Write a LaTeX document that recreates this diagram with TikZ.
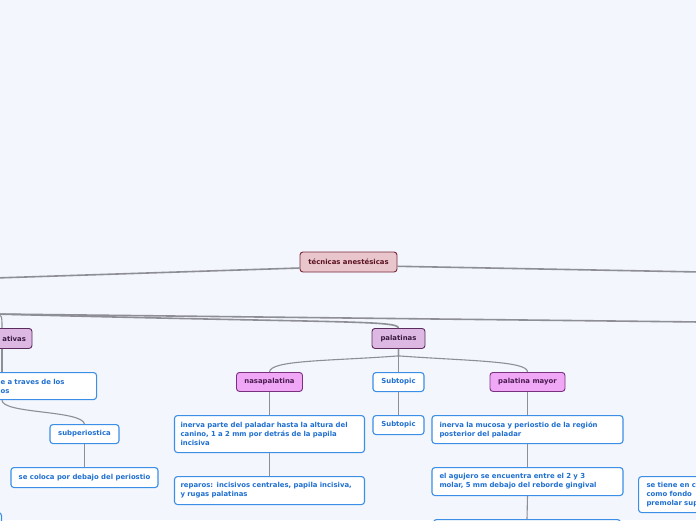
\documentclass[tikz,border=0pt]{standalone}
\usepackage{fontspec}
\setmainfont{DejaVu Sans}
\usetikzlibrary{positioning}
\definecolor{fondo}{HTML}{F3F6FD}
\definecolor{linea}{HTML}{8E8E96}
\definecolor{centralfondo}{HTML}{E8C6CB}
\definecolor{centralborde}{HTML}{7A2838}
\definecolor{centraltexto}{HTML}{5A1020}
\definecolor{nivelfondo}{HTML}{DCB8E2}
\definecolor{nivelborde}{HTML}{5B2B5E}
\definecolor{niveltexto}{HTML}{3A1A40}
\definecolor{tipofondo}{HTML}{F0A8F6}
\definecolor{tipoborde}{HTML}{7A307E}
\definecolor{tipotexto}{HTML}{4A1A50}
\definecolor{hojaborde}{HTML}{3C8FE6}
\definecolor{hojatexto}{HTML}{1F6FD0}
\begin{document}
\begin{tikzpicture}[x=1pt,y=-1pt,
  every node/.style={font=\fontsize{6.9}{9}\selectfont\bfseries, rounded corners=3pt, inner ysep=0pt},
  central/.style={draw=centralborde, fill=centralfondo, text=centraltexto, line width=0.9pt, minimum height=20pt},
  nivel/.style={draw=nivelborde, fill=nivelfondo, text=niveltexto, line width=0.9pt, minimum height=20pt},
  tipo/.style={draw=tipoborde, fill=tipofondo, text=tipotexto, line width=0.9pt, minimum height=19pt},
  hoja/.style={draw=hojaborde, fill=white, text=hojatexto, line width=1.1pt, align=left},
  rama/.style={draw=linea, line width=1.6pt},
  enlace/.style={draw=linea, line width=1.1pt}]
\fill[fondo] (0,0) rectangle (696,520);
\useasboundingbox (0,0) rectangle (696,520);
\clip (0,0) rectangle (696,520);

\node[central, minimum width=97pt] (tecnicas) at (348.5,262) {técnicas anestésicas};
\coordinate (izq) at (-5,278);
\coordinate (der) at (700,272);
\coordinate (raiz) at (-5,314);
\coordinate (otra) at (700,322);

\node[nivel, text width=60pt, inner xsep=6pt, align=right, anchor=north] (ativas) at (-4,328) {ativas};
\node[nivel, minimum width=53pt, inner xsep=0pt, anchor=north] (palatinas) at (398.5,328) {palatinas};

\node[tipo, minimum width=66pt, inner xsep=0pt, anchor=north] (nasa) at (269.5,372) {nasapalatina};
\node[hoja, minimum width=51pt, minimum height=19pt, inner xsep=0pt, align=center, anchor=north] (subuno) at (398.5,372) {Subtopic};
\node[tipo, minimum width=75pt, inner xsep=0pt, anchor=north] (mayor) at (527.5,372) {palatina mayor};
\node[hoja, minimum width=51pt, minimum height=19pt, inner xsep=0pt, align=center, anchor=north] (subdos) at (398.5,415) {Subtopic};

\node[hoja, text width=178pt, inner xsep=6pt, minimum height=37pt, anchor=north] (nasauno) at (269.5,415) {inerva parte del paladar hasta la altura del\\canino, 1 a 2 mm por detrás de la papila\\incisiva};
\node[hoja, text width=178pt, inner xsep=6pt, minimum height=28pt, anchor=north] (nasados) at (269.5,476) {reparos: incisivos centrales, papila incisiva,\\y rugas palatinas};

\node[hoja, text width=176pt, inner xsep=7.5pt, minimum height=28pt, anchor=north] (mayoruno) at (527.5,415) {inerva la mucosa y periostio de la región\\posterior del paladar};
\node[hoja, text width=176pt, inner xsep=7.5pt, minimum height=28pt, anchor=north] (mayordos) at (527.5,467) {el agujero se encuentra entre el 2 y 3\\molar, 5 mm debajo del reborde gingival};
\node[hoja, text width=170pt, inner xsep=8.5pt, minimum height=30pt, anchor=north] (mayortres) at (527,519) {};
\node[hoja, text width=120pt, inner xsep=8pt, minimum height=36pt, anchor=north west] (tiene) at (638,476) {se tiene en c\\como fondo\\premolar sup};

\node[hoja, text width=88pt, inner xsep=8pt, minimum height=27pt, anchor=north west] (traves) at (-8,372) {e a traves de los\\os};
\node[hoja, minimum width=69pt, minimum height=19pt, inner xsep=0pt, align=center, anchor=north] (subper) at (84.5,424) {subperiostica};
\node[hoja, minimum width=147pt, minimum height=20pt, inner xsep=0pt, align=center, anchor=north] (coloca) at (84.5,467) {se coloca por debajo del periostio};
\node[hoja, minimum width=30pt, minimum height=20pt, anchor=north east] (abajo) at (2,512) {};

\draw[rama] (tecnicas.187) -- (izq);
\draw[rama] (tecnicas.355) -- (der);
\draw[rama] (raiz) -- (otra);
\draw[rama] (raiz) .. controls (330,323) and (398,320) .. (palatinas.north);
\draw[enlace] (raiz) .. controls (2,315) .. ([xshift=6pt]ativas.north);

\draw[enlace] ([xshift=6pt]ativas.south) -- ([xshift=6pt]ativas.south |- traves.north);
\draw[enlace] ([xshift=6pt]ativas.south |- traves.south) .. controls (2,414) and (82,410) .. (subper.north);
\draw[enlace] (subper.south) -- (coloca.north);

\draw[enlace] (palatinas.south) -- ++(0,7) .. controls (330,361) and (270,360) .. (nasa.north);
\draw[enlace] (palatinas.south) -- (subuno.north);
\draw[enlace] (palatinas.south) -- ++(0,7) .. controls (470,361) and (528,361) .. (mayor.north);
\draw[enlace] (subuno.south) -- (subdos.north);
\draw[enlace] (nasa.south) -- (nasauno.north);
\draw[enlace] (nasauno.south) -- (nasados.north);
\draw[enlace] (mayor.south) -- (mayoruno.north);
\draw[enlace] (mayoruno.south) -- (mayordos.north);
\draw[enlace] (mayordos.south) -- (mayortres.north);
\end{tikzpicture}
\end{document}
